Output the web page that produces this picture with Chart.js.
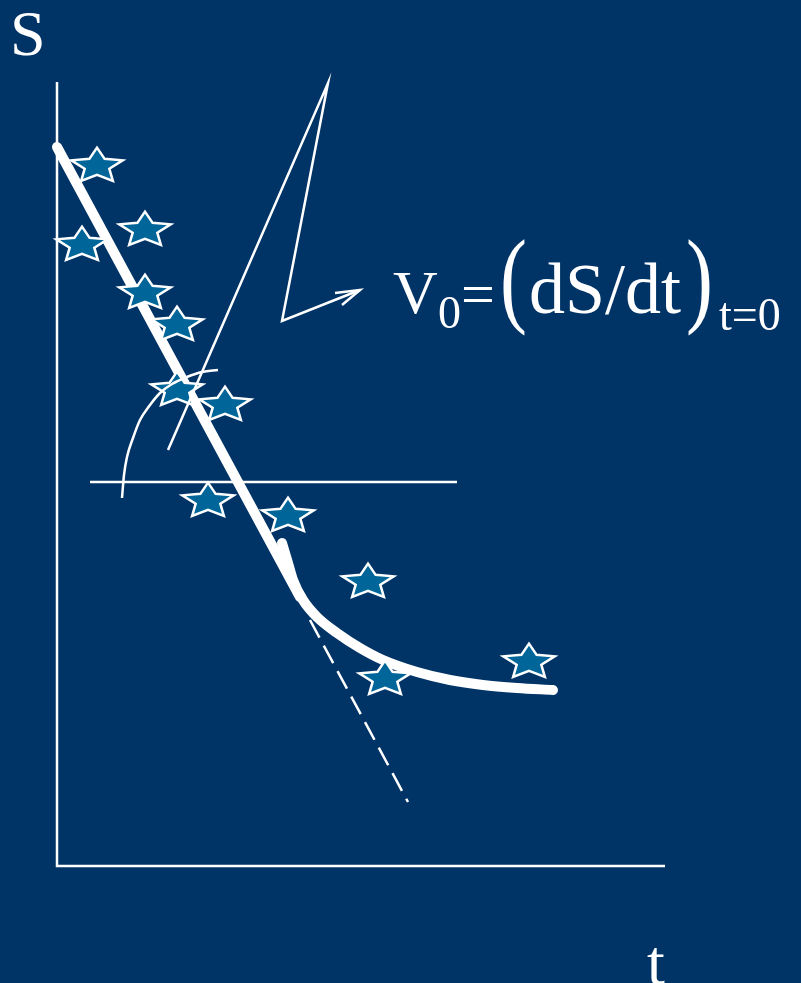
<!DOCTYPE html>
<html>
<head>
<meta charset="utf-8">
<title>S vs t — initial rate</title>
<script src="https://cdn.jsdelivr.net/npm/chart.js@4.4.0/dist/chart.umd.min.js"></script>
<style>
  html, body { margin: 0; padding: 0; background: #003366; overflow: hidden; }
  #wrap { width: 801px; height: 983px; position: relative; }
</style>
</head>
<body>
<div id="wrap"><canvas id="chart" width="801" height="983"></canvas></div>
<script>
// measured substrate concentration S at time t (arbitrary units)
const starT = [40, 88, 25, 88, 120, 120, 168, 151, 231, 311, 328, 472];
const starS = [701, 637, 622, 574, 542, 477, 462, 366, 351, 285, 188, 205];

// initial straight part of the progress curve
const fitT = [0, 243];
const fitS = [719, 269];

// levelling-off part of the progress curve
const curveT = [225, 231, 236, 246, 260, 280, 303, 326, 360, 393, 426, 460, 496];
const curveS = [323, 303, 286, 266, 249, 233, 218, 206, 194, 186, 181, 178, 176];

// extrapolated tangent
const tangentT = [253, 351];
const tangentS = [246, 64];

// horizontal reference and angle arc for the slope
const levelT = [33, 400];
const levelS = [384, 384];
const arcT = [65, 67, 70, 76, 83, 93, 103, 115, 130, 145, 161];
const arcS = [368, 391, 409, 428, 446, 461, 473, 482, 489, 494, 496];

// pointer from the slope to the formula
const pointerT = [111, 271, 225, 303];
const pointerS = [416, 783, 545, 576];
const arrowT = [278, 303, 285];
const arrowS = [573, 576, 561];

// axes
const axisT = [0, 0, 608];
const axisS = [784, 0, 0];

const WHITE = "#ffffff";

function pts(xs, ys) {
    return xs.map((x, i) => ({ x: x, y: ys[i] }));
}

// five-pointed star marker, slightly flattened
function makeStar() {
    const c = document.createElement("canvas");
    c.width = 62;
    c.height = 46;
    const g = c.getContext("2d");
    const cx = 31, cy = 24, R = 27, inner = 0.48, squash = 0.68;
    g.beginPath();
    for (let i = 0; i < 10; i++) {
        const a = -Math.PI / 2 + i * Math.PI / 5;
        const r = i % 2 === 0 ? R : R * inner;
        const px = cx + r * Math.cos(a);
        const py = cy + r * Math.sin(a) * squash;
        if (i === 0) g.moveTo(px, py); else g.lineTo(px, py);
    }
    g.closePath();
    g.fillStyle = "#006699";
    g.fill();
    g.lineWidth = 2.5;
    g.lineJoin = "miter";
    g.strokeStyle = WHITE;
    g.stroke();
    return c;
}

function line(data, width, order, extra) {
    return Object.assign({
        data: data,
        showLine: true,
        borderColor: WHITE,
        backgroundColor: WHITE,
        borderWidth: width,
        pointRadius: 0,
        pointHoverRadius: 0,
        fill: false,
        clip: false,
        order: order,
    }, extra || {});
}

const SERIF = '"Liberation Serif", "DejaVu Serif", serif';

const labelsPlugin = {
    id: "labels",
    afterDraw(chart) {
        const ctx = chart.ctx;
        ctx.save();
        ctx.fillStyle = WHITE;
        ctx.textBaseline = "alphabetic";
        ctx.textAlign = "left";

        ctx.font = "64px " + SERIF;
        ctx.fillText("S", 10, 55);
        ctx.fillText("t", 647, 984);

        ctx.font = "62px " + SERIF;
        ctx.fillText("V", 393, 313);
        ctx.font = "46px " + SERIF;
        ctx.fillText("0", 438, 328);
        ctx.font = "60px " + SERIF;
        ctx.fillText("=", 461, 314);

        // tall brackets
        ctx.font = "105px " + SERIF;
        ctx.save();
        ctx.translate(500, 313);
        ctx.scale(0.77, 1);
        ctx.fillText("(", 0, 0);
        ctx.restore();
        ctx.save();
        ctx.translate(686, 313);
        ctx.scale(0.77, 1);
        ctx.fillText(")", 0, 0);
        ctx.restore();

        ctx.font = "72px " + SERIF;
        ctx.fillText("dS/dt", 529, 313);
        ctx.font = "46px " + SERIF;
        ctx.fillText("t=0", 719, 330);
        ctx.restore();
    },
};

new Chart(document.getElementById("chart"), {
    type: "scatter",
    data: {
        datasets: [
            line(pts(levelT, levelS), 2.5, 0),
            line(pts(arcT, arcS), 2.5, 0, { cubicInterpolationMode: "monotone" }),
            line(pts(pointerT, pointerS), 2.5, 0, { borderJoinStyle: "miter" }),
            line(pts(arrowT, arrowS), 2.5, 0, { borderJoinStyle: "miter" }),
            {
                data: pts(starT, starS),
                showLine: false,
                pointStyle: makeStar(),
                pointRadius: 20,
                pointHoverRadius: 20,
                clip: false,
                order: 1,
            },
            line(pts(fitT, fitS), 10, 2, { borderCapStyle: "round" }),
            line(pts(curveT, curveS), 10, 2, {
                borderCapStyle: "round",
                borderJoinStyle: "round",
                cubicInterpolationMode: "monotone",
            }),
            line(pts(tangentT, tangentS), 2.5, 2, { borderDash: [20, 9] }),
            line(pts(axisT, axisS), 2.5, 3, { borderJoinStyle: "miter" }),
        ],
    },
    options: {
        responsive: false,
        animation: false,
        devicePixelRatio: 1,
        layout: { padding: { left: 57, top: 82, right: 136, bottom: 117 } },
        scales: {
            x: { type: "linear", display: false, min: 0, max: 608 },
            y: { type: "linear", display: false, min: 0, max: 784 },
        },
        plugins: {
            legend: { display: false },
            tooltip: { enabled: false },
        },
        events: [],
    },
    plugins: [labelsPlugin],
});
</script>
</body>
</html>
